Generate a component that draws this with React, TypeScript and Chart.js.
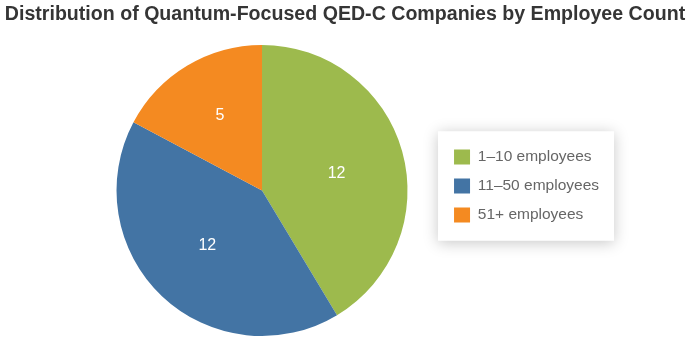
import React, { useEffect, useRef } from "react";
import { Chart, registerables } from "chart.js";

Chart.register(...registerables);

const TITLE = "Distribution of Quantum-Focused QED-C Companies by Employee Count";
const categories = ["1–10 employees", "11–50 employees", "51+ employees"];
const companyCounts = [12, 12, 5];
const sliceColors = ["#9DBA4D", "#4374A4", "#F48A21"];

const FONT = "Arial, 'Liberation Sans', Helvetica, sans-serif";

const titlePlugin = {
  id: "titleText",
  afterDraw(chart: any) {
    const ctx = chart.ctx;
    ctx.save();
    ctx.fillStyle = "#353535";
    ctx.font = `bold 19.6px ${FONT}`;
    ctx.textAlign = "center";
    ctx.textBaseline = "alphabetic";
    ctx.fillText(TITLE, chart.width / 2 - 1, 19.5);
    ctx.restore();
  },
};

const legendShift = {
  id: "legendShift",
  afterLayout(chart: any) {
    const lg = chart.legend;
    if (lg) {
      lg.top -= 4.5;
      lg.bottom -= 4.5;
    }
  },
};

const legendBackground = {
  id: "legendBackground",
  beforeDraw(chart: any) {
    const lg = chart.legend;
    const hb = lg && lg.legendHitBoxes;
    if (!hb || !hb.length) return;
    const left = Math.min(...hb.map((h: any) => h.left)) - 16;
    const right = Math.max(...hb.map((h: any) => h.left + h.width)) + 15;
    const top = hb[0].top - 18;
    const last = hb[hb.length - 1];
    const bottom = last.top + last.height + 18;
    const ctx = chart.ctx;
    ctx.save();
    ctx.shadowColor = "rgba(0,0,0,0.22)";
    ctx.shadowBlur = 14;
    ctx.shadowOffsetY = 2;
    ctx.fillStyle = "#ffffff";
    ctx.fillRect(left, top, right - left, bottom - top);
    ctx.restore();
  },
};

const sliceLabels = {
  id: "sliceLabels",
  afterDatasetsDraw(chart: any) {
    const ctx = chart.ctx;
    const meta = chart.getDatasetMeta(0);
    const data = chart.data.datasets[0].data;
    ctx.save();
    ctx.fillStyle = "#ffffff";
    ctx.font = `16px ${FONT}`;
    ctx.textAlign = "center";
    ctx.textBaseline = "middle";
    meta.data.forEach((arc: any, i: number) => {
      const { x, y, startAngle, endAngle, outerRadius } = arc.getProps(
        ["x", "y", "startAngle", "endAngle", "outerRadius"],
        true
      );
      const mid = (startAngle + endAngle) / 2 + (2 * Math.PI) / 180;
      const half = (endAngle - startAngle) / 2;
      const centroid = half > 0 ? ((2 / 3) * outerRadius * Math.sin(half)) / half : 0;
      const d = 0.5 * centroid + 0.5 * 0.56 * outerRadius;
      ctx.fillText(String(data[i]), x + d * Math.cos(mid), y + 1 + d * Math.sin(mid));
    });
    ctx.restore();
  },
};

export default function App() {
  const ref = useRef<HTMLCanvasElement>(null);

  useEffect(() => {
    if (!ref.current) return;
    const chart = new Chart(ref.current, {
      type: "pie",
      data: {
        labels: categories,
        datasets: [
          {
            data: companyCounts,
            backgroundColor: sliceColors,
            borderWidth: 0,
          },
        ],
      },
      options: {
        responsive: false,
        animation: false,
        layout: { padding: { left: 83.5, right: 83, top: 45, bottom: 15 } },
        plugins: {
          title: { display: false },
          legend: {
            display: true,
            position: "right",
            labels: {
              boxWidth: 16,
              boxHeight: 15,
              padding: 13.5,
              color: "#666666",
              font: { family: FONT, size: 15.5, lineHeight: 0.97 },
            },
          },
          tooltip: { enabled: false },
        },
      },
      plugins: [legendShift, legendBackground, sliceLabels, titlePlugin],
    });
    return () => chart.destroy();
  }, []);

  return (
    <canvas
      ref={ref}
      width={692}
      height={351}
      style={{ position: "fixed", left: 0, top: 0, width: 692, height: 351, display: "block" }}
    />
  );
}
